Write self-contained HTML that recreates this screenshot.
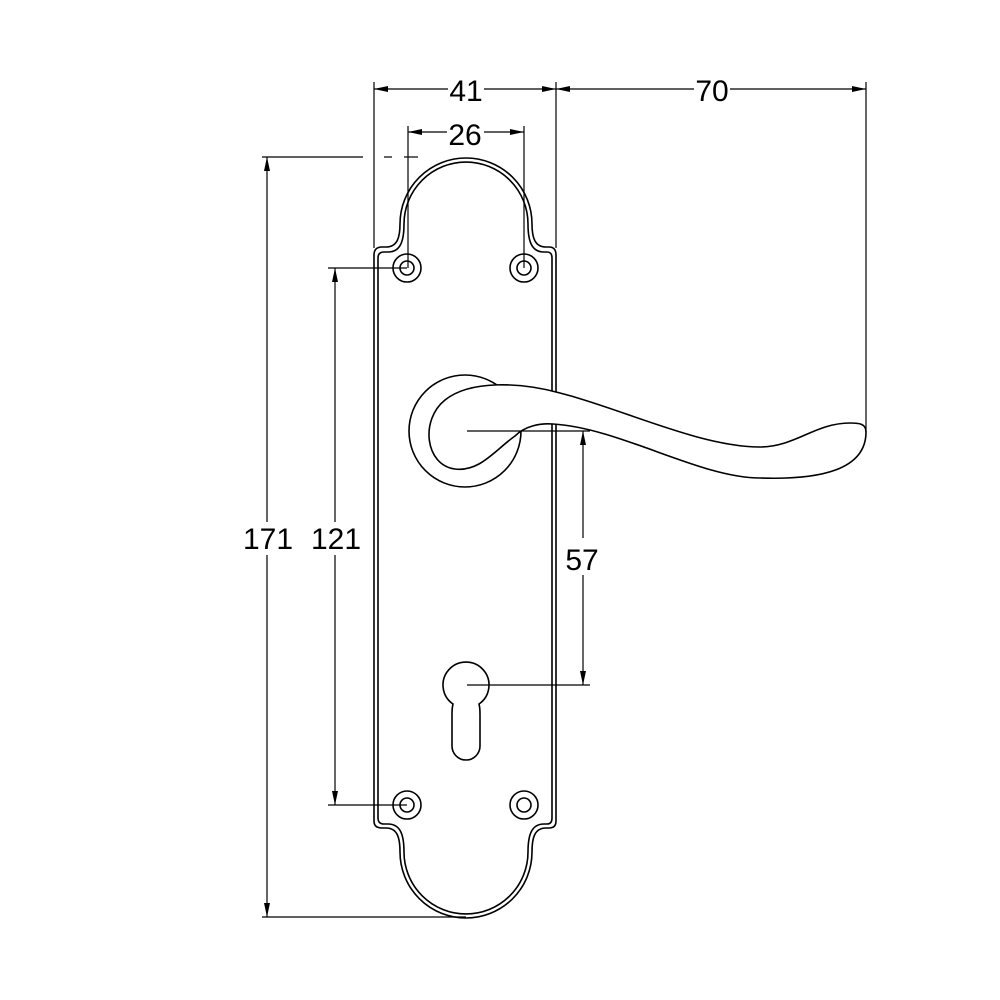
<!DOCTYPE html>
<html><head><meta charset="utf-8"><style>html,body{margin:0;padding:0;background:#fff}svg{display:block}</style></head>
<body>
<svg width="1000" height="1000" viewBox="0 0 1000 1000" xmlns="http://www.w3.org/2000/svg">
<defs>
<marker id="a" viewBox="0 0 14 6" refX="14" refY="3" markerWidth="14" markerHeight="6" markerUnits="userSpaceOnUse" orient="auto-start-reverse"><path d="M0,0 L14,3 L0,6 Z" fill="#000"/></marker>
</defs>
<g fill="none" stroke="#000" stroke-width="1.6">
<path d="M374 255 Q374 247 382 247 L386 247 C397 247 400 238 400 224 A66 66 0 0 1 532 224 C532 238 535 247 546 247 L549 247 Q556 247 556 255 L556 821 Q556 828 549 828 L546 828 C535 828 532 837 532 852 A66 66 0 0 1 400 852 C400 837 397 828 386 828 L382 828 Q374 828 374 821 Z"/>
<path d="M378 258 Q378 252 384 252 L388 252 C400 252 404 242 404 224 A62 62 0 0 1 528 224 C528 242 532 252 544 252 L547 252 Q552 252 552 258 L552 818 Q552 824 547 824 L544 824 C532 824 528 834 528 852 A62 62 0 0 1 404 852 C404 834 400 824 388 824 L384 824 Q378 824 378 818 Z"/>
<circle cx="407" cy="268" r="14"/><circle cx="407" cy="268" r="7"/>
<circle cx="524" cy="268" r="14"/><circle cx="524" cy="268" r="7"/>
<circle cx="407" cy="805" r="14"/><circle cx="407" cy="805" r="7"/>
<circle cx="524" cy="805" r="14"/><circle cx="524" cy="805" r="7"/>
<path d="M453 704 A23 23 0 1 1 479 704 Q480 708 480 714 L480 746 A14 14 0 0 1 452 746 L452 714 Q452 708 453 704 Z"/>
<circle cx="465" cy="431" r="56"/>
<path fill="#fff" d="M866 432 C866 424 860 423 850 423 C815 423 795 447 760 447 C700 447 620 408 560 393 C520 382 470 380 445 400 C420 420 425 465 455 469 C480 472 495 450 515 436 C525 426 540 423 553 424 C620 428 700 478 760 478 C820 480 866 470 866 432 Z"/>
</g>
<g fill="none" stroke="#000" stroke-width="1.2">
<line x1="374" y1="82" x2="374" y2="248"/>
<line x1="556" y1="82" x2="556" y2="248"/>
<line x1="866" y1="82" x2="866" y2="432"/>
<line x1="408" y1="126" x2="408" y2="268"/>
<line x1="524" y1="126" x2="524" y2="268"/>
<line x1="262" y1="157" x2="363" y2="157"/>
<line x1="384" y1="157" x2="392" y2="157"/>
<line x1="404" y1="157" x2="418" y2="157"/>
<line x1="262" y1="917" x2="466" y2="917"/>
<line x1="328" y1="268" x2="407" y2="268"/>
<line x1="328" y1="805" x2="407" y2="805"/>
<line x1="467" y1="431" x2="590" y2="431"/>
<line x1="467" y1="685" x2="590" y2="685"/>
<line x1="374" y1="89" x2="448" y2="89" marker-start="url(#a)"/>
<line x1="484" y1="89" x2="556" y2="89" marker-end="url(#a)"/>
<line x1="556" y1="89" x2="694" y2="89" marker-start="url(#a)"/>
<line x1="730" y1="89" x2="866" y2="89" marker-end="url(#a)"/>
<line x1="408" y1="132" x2="447" y2="132" marker-start="url(#a)"/>
<line x1="484" y1="132" x2="524" y2="132" marker-end="url(#a)"/>
<line x1="267" y1="157" x2="267" y2="522" marker-start="url(#a)"/>
<line x1="267" y1="555" x2="267" y2="917" marker-end="url(#a)"/>
<line x1="335" y1="268" x2="335" y2="522" marker-start="url(#a)"/>
<line x1="335" y1="555" x2="335" y2="805" marker-end="url(#a)"/>
<line x1="583" y1="431" x2="583" y2="538" marker-start="url(#a)"/>
<line x1="583" y1="575" x2="583" y2="685" marker-end="url(#a)"/>
</g>
<g font-family="Liberation Sans, sans-serif" font-size="30" text-anchor="middle" fill="#000">
<text x="466" y="101">41</text>
<text x="712" y="101">70</text>
<text x="465" y="145">26</text>
<text x="268" y="549">171</text>
<text x="336" y="549">121</text>
<text x="582" y="570">57</text>
</g>
</svg>
</body></html>
